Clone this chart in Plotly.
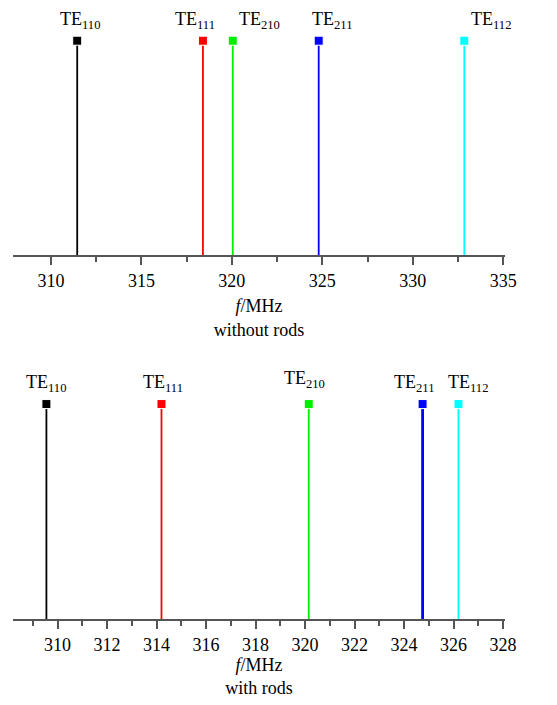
import plotly.graph_objects as go

modes = ["110", "111", "210", "211", "112"]
colors = ["#000000", "#ff0000", "#00ee00", "#0000ff", "#00ffff"]
freq_without = [311.45, 318.4, 320.05, 324.8, 332.85]
freq_with = [309.55, 314.2, 320.15, 324.75, 326.2]
amp = [1, 1, 1, 1, 1]
# label horizontal offsets (px) as drawn in the original
label_shift_top = [3, -8, 27, 13, 27]
label_shift_bot = [0, 2, -4, -9, 10]

fig = go.Figure()
FONT = "Liberation Serif, Times New Roman, serif"

for i, m in enumerate(modes):
    fig.add_trace(go.Scatter(x=[freq_without[i], freq_without[i]], y=[0, amp[i]],
                             mode="lines+markers", line=dict(color=colors[i], width=1.8),
                             marker=dict(symbol="square", size=[0, 9], color=colors[i], opacity=1),
                             xaxis="x", yaxis="y", showlegend=False, hoverinfo="x"))
    fig.add_annotation(x=freq_without[i], y=amp[i], xref="x", yref="y", text="TE<sub>%s</sub>" % m,
                       showarrow=False, yanchor="bottom", yshift=7, xshift=label_shift_top[i],
                       font=dict(family=FONT, size=18, color="black"))
    fig.add_trace(go.Scatter(x=[freq_with[i], freq_with[i]], y=[0, amp[i]],
                             mode="lines+markers",
                             line=dict(color=colors[i], width=2.8 if m == "211" else 1.8),
                             marker=dict(symbol="square", size=[0, 9], color=colors[i], opacity=1),
                             xaxis="x2", yaxis="y2", showlegend=False, hoverinfo="x"))
    fig.add_annotation(x=freq_with[i], y=amp[i], xref="x2", yref="y2", text="TE<sub>%s</sub>" % m,
                       showarrow=False, yanchor="bottom", yshift=7 + (4 if m == "210" else 0),
                       xshift=label_shift_bot[i],
                       font=dict(family=FONT, size=18, color="black"))

def axis_common():
    return dict(showgrid=False, zeroline=False, showline=True, linecolor="#555", linewidth=2,
                ticks="outside", tickcolor="#555", tickwidth=2, ticklen=8,
                tickfont=dict(family=FONT, size=18, color="black"))

fig.update_layout(
    width=557, height=705, plot_bgcolor="white", paper_bgcolor="white",
    font=dict(family=FONT, size=18, color="black"),
    margin=dict(l=13, r=52, t=0, b=0),
    xaxis=dict(range=[307.9, 335.1], domain=[0, 1], anchor="y", tick0=310, dtick=5,
               minor=dict(ticks="outside", ticklen=5, tickcolor="#555", tickwidth=2, dtick=2.5, tick0=310),
               title=dict(text="<i>f</i>/MHz<br>without rods", standoff=10,
                          font=dict(family=FONT, size=18, color="black")), **axis_common()),
    yaxis=dict(range=[0, 1.19], domain=[1 - 255 / 705, 1], visible=False, anchor="x"),
    xaxis2=dict(range=[308.2, 328.08], domain=[0, 1], anchor="y2", tick0=310, dtick=2,
                minor=dict(ticks="outside", ticklen=5, tickcolor="#555", tickwidth=2, dtick=1, tick0=309),
                title=dict(text="<i>f</i>/MHz<br>with rods", standoff=2,
                           font=dict(family=FONT, size=18, color="black")), **axis_common()),
    yaxis2=dict(range=[0, 1.205], domain=[1 - 619 / 705, 1 - 360 / 705], visible=False, anchor="x2"),
)

fig.write_html("out.html", config={"displayModeBar": False},
               post_script="document.body.style.margin='0';document.body.style.padding='0';")
